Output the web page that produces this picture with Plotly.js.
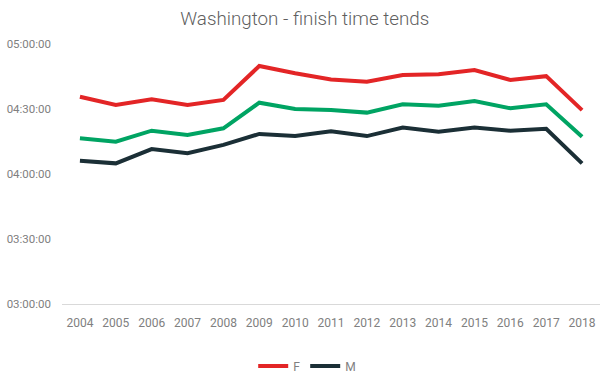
<!DOCTYPE html>
<html>
<head>
<meta charset="utf-8">
<script src="https://cdn.plot.ly/plotly-3.0.1.min.js"></script>
<style>html,body{margin:0;padding:0;background:#fff;}#chart{width:600px;height:375px;}</style>
</head>
<body>
<div id="chart"></div>
<script>
const years = ['2004','2005','2006','2007','2008','2009','2010','2011','2012','2013','2014','2015','2016','2017','2018'];
const femaleTimes = ['04:35:40','04:31:50','04:34:30','04:31:50','04:34:10','04:49:50','04:46:30','04:43:40','04:42:35','04:45:40','04:46:00','04:48:00','04:43:25','04:45:10','04:29:30'];
const allTimes = ['04:16:30','04:14:55','04:20:00','04:18:00','04:21:05','04:32:55','04:30:00','04:29:30','04:28:20','04:32:10','04:31:30','04:33:40','04:30:20','04:32:10','04:17:10'];
const maleTimes = ['04:06:05','04:04:55','04:11:30','04:09:35','04:13:25','04:18:30','04:17:30','04:19:40','04:17:30','04:21:25','04:19:30','04:21:25','04:20:00','04:20:50','04:04:55'];
const yTicks = ['03:00:00','03:30:00','04:00:00','04:30:00','05:00:00'];

const day = '1970-01-01 ';
const toDate = arr => arr.map(t => day + t);

const traces = [
  {x: years, y: toDate(femaleTimes), name: 'F', type: 'scatter', mode: 'lines',
   line: {color: '#e32526', width: 4}, hoverinfo: 'skip'},
  {x: years, y: toDate(allTimes), name: 'All', type: 'scatter', mode: 'lines',
   line: {color: '#00a463', width: 4}, showlegend: false, hoverinfo: 'skip'},
  {x: years, y: toDate(maleTimes), name: 'M', type: 'scatter', mode: 'lines',
   line: {color: '#1b2f36', width: 4}, hoverinfo: 'skip'}
];

const layout = {
  width: 600, height: 375,
  margin: {l: 62, r: 0, t: 44, b: 71},
  paper_bgcolor: '#fff', plot_bgcolor: '#fff',
  font: {family: 'Roboto, sans-serif', color: '#808080', size: 12},
  title: {text: 'Washington - finish time tends', x: 0.508, xanchor: 'center', xref: 'container',
          y: 0.952, yanchor: 'middle', yref: 'container',
          font: {family: 'Roboto, sans-serif', size: 18.8, color: '#5f5f5f', weight: 300}},
  xaxis: {type: 'category', showgrid: false, zeroline: false, showline: true, automargin: false,
          linecolor: '#d9d9d9', linewidth: 1, ticks: '', ticklabelstandoff: 8,
          tickfont: {size: 12, color: '#808080'}, range: [-0.5, 14.5], fixedrange: true},
  yaxis: {type: 'date', range: [day + yTicks[0], day + yTicks[yTicks.length - 1]], automargin: false,
          tickvals: toDate(yTicks), ticktext: yTicks, showgrid: false, zeroline: false,
          showline: false, ticks: '', ticklabelstandoff: 10,
          tickfont: {size: 11.5, color: '#808080'}, fixedrange: true},
  showlegend: true,
  legend: {orientation: 'h', xref: 'container', yref: 'container', x: 0.512, xanchor: 'center',
           y: 0.024, yanchor: 'middle', font: {size: 12, color: '#808080'},
           itemwidth: 30, tracegroupgap: 0}
};

Plotly.newPlot('chart', traces, layout, {displayModeBar: false, staticPlot: true});
</script>
</body>
</html>
